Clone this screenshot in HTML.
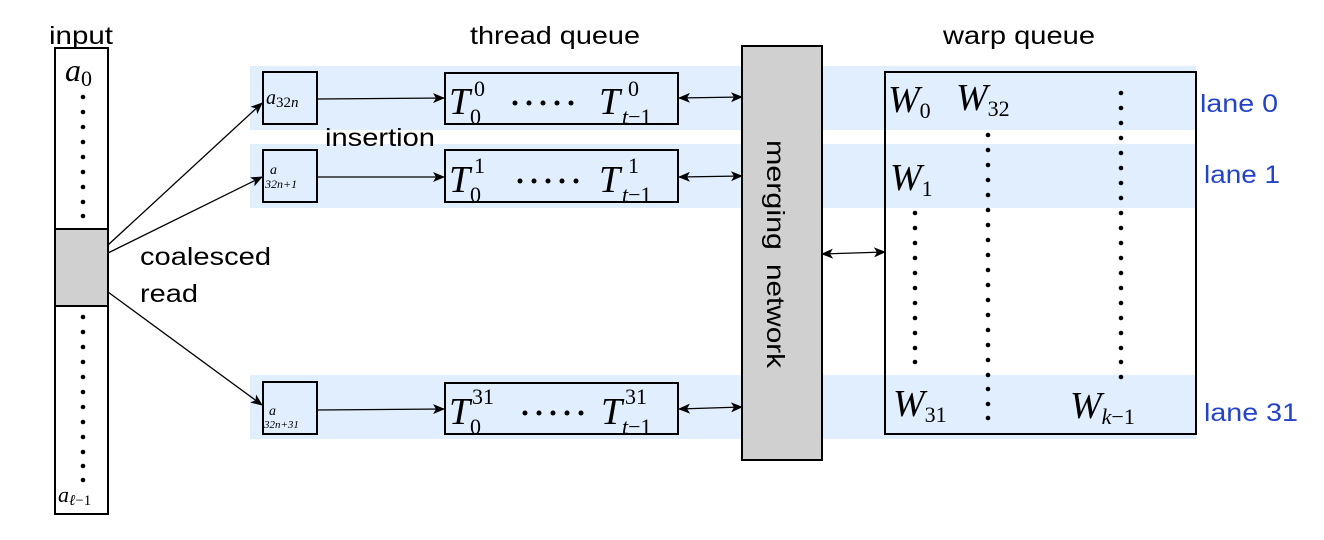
<!DOCTYPE html>
<html><head><style>body{margin:0;background:#fff}</style></head><body>
<svg width="1324" height="535" xmlns="http://www.w3.org/2000/svg" font-family="Liberation Sans, sans-serif">
<defs>
<marker id="ah" markerWidth="12" markerHeight="10" refX="11" refY="5" orient="auto" markerUnits="userSpaceOnUse">
<path d="M0,0 L12,5 L0,10 L3,5 z" fill="#000"/></marker>
<marker id="as" markerWidth="12" markerHeight="10" refX="1" refY="5" orient="auto" markerUnits="userSpaceOnUse">
<path d="M12,0 L0,5 L12,10 L9,5 z" fill="#000"/></marker>
</defs>
<rect x="250" y="66" width="946" height="64" fill="#e0eefd"/>
<rect x="250" y="144" width="946" height="64" fill="#e0eefd"/>
<rect x="250" y="375" width="946" height="64" fill="#e0eefd"/>
<text x="49" y="44" font-size="25" textLength="64" lengthAdjust="spacingAndGlyphs">input</text>
<text x="470" y="44" font-size="25" textLength="170" lengthAdjust="spacingAndGlyphs">thread queue</text>
<text x="943" y="44" font-size="25" textLength="152" lengthAdjust="spacingAndGlyphs">warp queue</text>
<rect x="55" y="48" width="53" height="466" fill="#fff" stroke="#000" stroke-width="2"/>
<rect x="55" y="229" width="53" height="77" fill="#d0d0d0" stroke="#000" stroke-width="2"/>
<g fill="#000">
<circle cx="83" cy="97" r="2.3"/><circle cx="83" cy="112" r="2.3"/><circle cx="83" cy="127" r="2.3"/><circle cx="83" cy="142" r="2.3"/><circle cx="83" cy="157" r="2.3"/><circle cx="83" cy="172" r="2.3"/><circle cx="83" cy="187" r="2.3"/><circle cx="83" cy="202" r="2.3"/><circle cx="83" cy="216" r="2.3"/>
<circle cx="83" cy="317" r="2.3"/><circle cx="83" cy="332" r="2.3"/><circle cx="83" cy="347" r="2.3"/><circle cx="83" cy="362" r="2.3"/><circle cx="83" cy="377" r="2.3"/><circle cx="83" cy="392" r="2.3"/><circle cx="83" cy="407" r="2.3"/><circle cx="83" cy="422" r="2.3"/><circle cx="83" cy="437" r="2.3"/><circle cx="83" cy="452" r="2.3"/><circle cx="83" cy="466" r="2.3"/><circle cx="83" cy="480" r="2.3"/>
</g>
<text x="65" y="81" font-family="Liberation Serif, serif" font-style="italic" font-size="32">a<tspan font-style="normal" font-size="22" dy="5">0</tspan></text>
<text x="58" y="502" font-family="Liberation Serif, serif" font-style="italic" font-size="22">a<tspan font-size="15" dy="3">ℓ<tspan font-style="normal">−1</tspan></tspan></text>
<text x="140" y="265" font-size="25" textLength="131" lengthAdjust="spacingAndGlyphs">coalesced</text>
<text x="140" y="302" font-size="25" textLength="58" lengthAdjust="spacingAndGlyphs">read</text>
<text x="325" y="146" font-size="25" textLength="110" lengthAdjust="spacingAndGlyphs">insertion</text>
<g stroke="#000" stroke-width="1.3" fill="none">
<line x1="108" y1="245" x2="262" y2="103" marker-end="url(#ah)"/>
<line x1="108" y1="253" x2="262" y2="177" marker-end="url(#ah)"/>
<line x1="108" y1="292" x2="262" y2="405" marker-end="url(#ah)"/>
<line x1="317" y1="99" x2="444" y2="98" marker-end="url(#ah)"/>
<line x1="317" y1="177" x2="444" y2="177" marker-end="url(#ah)"/>
<line x1="317" y1="410" x2="444" y2="409" marker-end="url(#ah)"/>
<line x1="679" y1="98" x2="742" y2="97" marker-start="url(#as)" marker-end="url(#ah)"/>
<line x1="679" y1="177" x2="742" y2="176" marker-start="url(#as)" marker-end="url(#ah)"/>
<line x1="679" y1="409" x2="742" y2="407" marker-start="url(#as)" marker-end="url(#ah)"/>
<line x1="822" y1="254" x2="885" y2="252" marker-start="url(#as)" marker-end="url(#ah)"/>
</g>
<g fill="none" stroke="#000" stroke-width="2">
<rect x="263" y="72" width="54" height="52"/>
<rect x="263" y="150" width="54" height="52"/>
<rect x="263" y="382" width="54" height="52"/>
<rect x="445" y="73" width="233" height="51"/>
<rect x="445" y="150" width="233" height="52"/>
<rect x="445" y="383" width="233" height="51"/>
<rect x="885" y="72" width="311" height="362"/>
</g>
<rect x="742" y="46" width="80" height="414" fill="#d0d0d0" stroke="#000" stroke-width="2"/>
<text transform="translate(767,140) rotate(90)" font-size="25" textLength="110" lengthAdjust="spacingAndGlyphs">merging</text>
<text transform="translate(767,264) rotate(90)" font-size="25" textLength="104" lengthAdjust="spacingAndGlyphs">network</text>
<g font-family="Liberation Serif, serif" font-style="italic">
<text x="266" y="104" font-size="20">a<tspan font-size="15" dy="3" font-style="normal">32</tspan><tspan font-size="15">n</tspan></text>
<text x="270" y="174" font-size="14">a</text><text x="265" y="188" font-size="12">32n+1</text>
<text x="269" y="415" font-size="14">a</text><text x="264" y="428" font-size="11">32n+31</text>
<g font-size="38">
<text x="449" y="114">T</text><text x="599" y="114">T</text>
<text x="449" y="192">T</text><text x="599" y="192">T</text>
<text x="449" y="424">T</text><text x="601" y="424">T</text>
</g>
<g font-size="22" font-style="normal">
<text x="474" y="96">0</text><text x="470" y="124">0</text><text x="628" y="96">0</text>
<text x="474" y="173">1</text><text x="470" y="202">0</text><text x="628" y="173">1</text>
<text x="472" y="404">31</text><text x="470" y="434">0</text><text x="625" y="404">31</text>
</g>
<g font-size="22"><text x="622" y="124">t<tspan font-style="normal">−1</tspan></text><text x="622" y="202">t<tspan font-style="normal">−1</tspan></text><text x="622" y="434">t<tspan font-style="normal">−1</tspan></text></g>
<text x="888" y="112" font-size="38">W<tspan font-style="normal" font-size="22" dy="6">0</tspan></text>
<text x="956" y="110" font-size="38">W<tspan font-style="normal" font-size="22" dy="6">32</tspan></text>
<text x="890" y="190" font-size="38">W<tspan font-style="normal" font-size="22" dy="6">1</tspan></text>
<text x="893" y="416" font-size="38">W<tspan font-style="normal" font-size="22" dy="6">31</tspan></text>
<text x="1070" y="418" font-size="38">W<tspan font-size="22" dy="6">k<tspan font-style="normal">−1</tspan></tspan></text>
</g>
<g fill="#000">
<circle cx="515" cy="103" r="2.5"/><circle cx="529" cy="103" r="2.5"/><circle cx="543" cy="103" r="2.5"/><circle cx="557" cy="103" r="2.5"/><circle cx="571" cy="103" r="2.5"/>
<circle cx="520" cy="181" r="2.5"/><circle cx="534" cy="181" r="2.5"/><circle cx="548" cy="181" r="2.5"/><circle cx="562" cy="181" r="2.5"/><circle cx="576" cy="181" r="2.5"/>
<circle cx="525" cy="413" r="2.5"/><circle cx="539" cy="413" r="2.5"/><circle cx="553" cy="413" r="2.5"/><circle cx="567" cy="413" r="2.5"/><circle cx="581" cy="413" r="2.5"/>
<circle cx="915" cy="213" r="2.3"/><circle cx="915" cy="228" r="2.3"/><circle cx="915" cy="243" r="2.3"/><circle cx="915" cy="258" r="2.3"/><circle cx="915" cy="273" r="2.3"/><circle cx="915" cy="288" r="2.3"/><circle cx="915" cy="303" r="2.3"/><circle cx="915" cy="318" r="2.3"/><circle cx="915" cy="333" r="2.3"/><circle cx="915" cy="348" r="2.3"/><circle cx="915" cy="362" r="2.3"/>
<circle cx="988" cy="135" r="2.3"/><circle cx="988" cy="150" r="2.3"/><circle cx="988" cy="165" r="2.3"/><circle cx="988" cy="180" r="2.3"/><circle cx="988" cy="195" r="2.3"/><circle cx="988" cy="210" r="2.3"/><circle cx="988" cy="225" r="2.3"/><circle cx="988" cy="240" r="2.3"/><circle cx="988" cy="255" r="2.3"/><circle cx="988" cy="270" r="2.3"/><circle cx="988" cy="285" r="2.3"/><circle cx="988" cy="300" r="2.3"/><circle cx="988" cy="315" r="2.3"/><circle cx="988" cy="330" r="2.3"/><circle cx="988" cy="345" r="2.3"/><circle cx="988" cy="360" r="2.3"/><circle cx="988" cy="375" r="2.3"/><circle cx="988" cy="389" r="2.3"/><circle cx="988" cy="404" r="2.3"/><circle cx="988" cy="418" r="2.3"/>
<circle cx="1121" cy="93" r="2.3"/><circle cx="1121" cy="108" r="2.3"/><circle cx="1121" cy="123" r="2.3"/><circle cx="1121" cy="138" r="2.3"/><circle cx="1121" cy="153" r="2.3"/><circle cx="1121" cy="168" r="2.3"/><circle cx="1121" cy="183" r="2.3"/><circle cx="1121" cy="198" r="2.3"/><circle cx="1121" cy="213" r="2.3"/><circle cx="1121" cy="228" r="2.3"/><circle cx="1121" cy="243" r="2.3"/><circle cx="1121" cy="258" r="2.3"/><circle cx="1121" cy="273" r="2.3"/><circle cx="1121" cy="288" r="2.3"/><circle cx="1121" cy="303" r="2.3"/><circle cx="1121" cy="318" r="2.3"/><circle cx="1121" cy="333" r="2.3"/><circle cx="1121" cy="348" r="2.3"/><circle cx="1121" cy="362" r="2.3"/><circle cx="1121" cy="377" r="2.3"/>
</g>
<g fill="#2343c8" font-size="25">
<text x="1200" y="112" textLength="78" lengthAdjust="spacingAndGlyphs">lane 0</text>
<text x="1204" y="183" textLength="76" lengthAdjust="spacingAndGlyphs">lane 1</text>
<text x="1204" y="421" textLength="94" lengthAdjust="spacingAndGlyphs">lane 31</text>
</g>
</svg>
</body></html>
